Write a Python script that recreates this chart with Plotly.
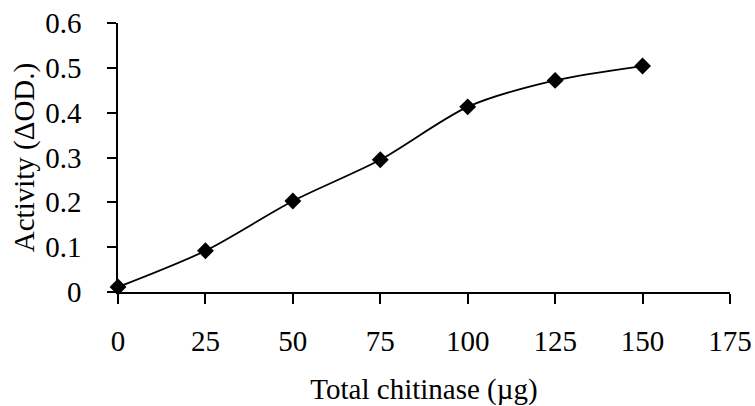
import plotly.graph_objects as go

total_chitinase = [0, 25, 50, 75, 100, 125, 150]
activity = [0.011, 0.092, 0.203, 0.295, 0.413, 0.472, 0.504]
x_ticks = [0, 25, 50, 75, 100, 125, 150, 175]
y_ticks = [0, 0.1, 0.2, 0.3, 0.4, 0.5, 0.6]
y_tick_text = ["0", "0.1", "0.2", "0.3", "0.4", "0.5", "0.6"]

font_family = "Liberation Serif, Times New Roman, serif"

fig = go.Figure(
    go.Scatter(
        x=total_chitinase,
        y=activity,
        mode="lines+markers",
        line=dict(color="black", width=1.8, shape="spline", smoothing=0.8),
        marker=dict(symbol="diamond", size=13, color="black"),
        showlegend=False,
        cliponaxis=False,
    )
)

fig.update_layout(
    width=755,
    height=406,
    margin=dict(l=118, r=25, t=23, b=114),
    paper_bgcolor="white",
    plot_bgcolor="white",
    font=dict(family=font_family, size=29, color="black"),
    xaxis=dict(
        range=[0, 175],
        tickvals=x_ticks,
        ticks="outside",
        ticklen=10,
        tickwidth=1.5,
        tickcolor="black",
        showline=True,
        linecolor="black",
        linewidth=1.5,
        showgrid=False,
        zeroline=False,
        automargin=False,
        ticklabelstandoff=12,
        title=dict(text="Total chitinase (µg)", font=dict(size=29), standoff=28),
    ),
    yaxis=dict(
        range=[0, 0.6],
        tickvals=y_ticks,
        ticktext=y_tick_text,
        ticks="outside",
        ticklen=9,
        tickwidth=1.5,
        tickcolor="black",
        showline=True,
        linecolor="black",
        linewidth=1.5,
        showgrid=False,
        zeroline=False,
        automargin=False,
        ticklabelstandoff=20,
        title=dict(text="Activity (ΔOD.)", font=dict(size=29), standoff=2),
    ),
)

fig.write_html(
    "out.html",
    config={"displayModeBar": False},
    post_script="document.body.style.margin='0';document.body.style.overflow='hidden';",
)
